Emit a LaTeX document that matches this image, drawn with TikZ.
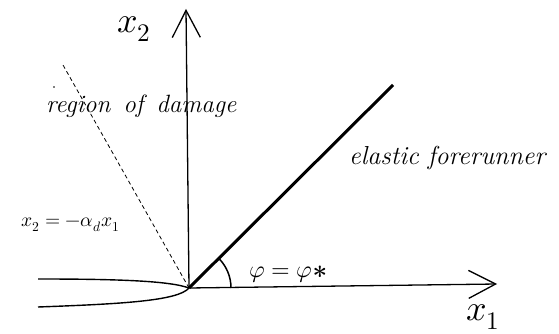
\documentclass[tikz,border=0pt]{standalone}
\usepackage{unicode-math}
\setmathfont{Latin Modern Math}
\usetikzlibrary{arrows.meta}
\begin{document}
\begin{tikzpicture}[x=1pt,y=1pt,
  axis/.style={line width=1.3pt,-{Straight Barb[length=27pt,width=28pt]}},
  fore/.style={line width=3pt},
  damage/.style={line width=0.8pt,dash pattern=on 4pt off 3pt},
  crack/.style={line width=1.4pt},
  lbl/.style={inner sep=0pt,anchor=base west}]
\useasboundingbox (0,0) rectangle (559,334);
% key points
\coordinate (O) at (189,46);
\coordinate (Ytop) at (186,325);
\coordinate (Xtip) at (497,50);
\coordinate (F) at (393,249);
\coordinate (D) at (63,269);
\coordinate (CU) at (38,55);
\coordinate (CL) at (38,27);
% crack faces
\draw[crack] (CU) .. controls (120,55) and (170,53) .. (O);
\draw[crack] (CL) .. controls (120,30) and (178,33) .. (O);
% axes
\draw[axis] (O) -- (Ytop);
\draw[axis] (O) -- (Xtip);
% damage boundary
\draw[damage] (O) -- (D);
\fill (54,247) circle (0.8pt);
% elastic forerunner
\draw[fore] (O) -- (F);
% angle arc
\draw[line width=1.5pt] ([shift={(0:42)}]O) arc[start angle=0,end angle=45,radius=42];
% labels
\node[lbl] (lx2) at (117,301) {\fontsize{36}{36}\selectfont $x_2$};
\node[lbl] (lx1) at (466,13) {\fontsize{36}{36}\selectfont $x_1$};
\node[lbl] (lreg) at (46,221) {\fontsize{25}{25}\selectfont\itshape region\hspace{13pt}of\hspace{13pt}damage};
\node[lbl] (lel) at (349,169) {\fontsize{26}{26}\selectfont\itshape elastic forerunner};
\node[lbl] (leq) at (21,107) {\fontsize{19.5}{19.5}\selectfont $x_2=-\alpha_d x_1$};
\node[lbl] (lphi) at (249,56) {\fontsize{24}{24}\selectfont $\varphi=\varphi$\raisebox{-8pt}{\fontsize{26}{26}\selectfont\bfseries *}};
\end{tikzpicture}
\end{document}
